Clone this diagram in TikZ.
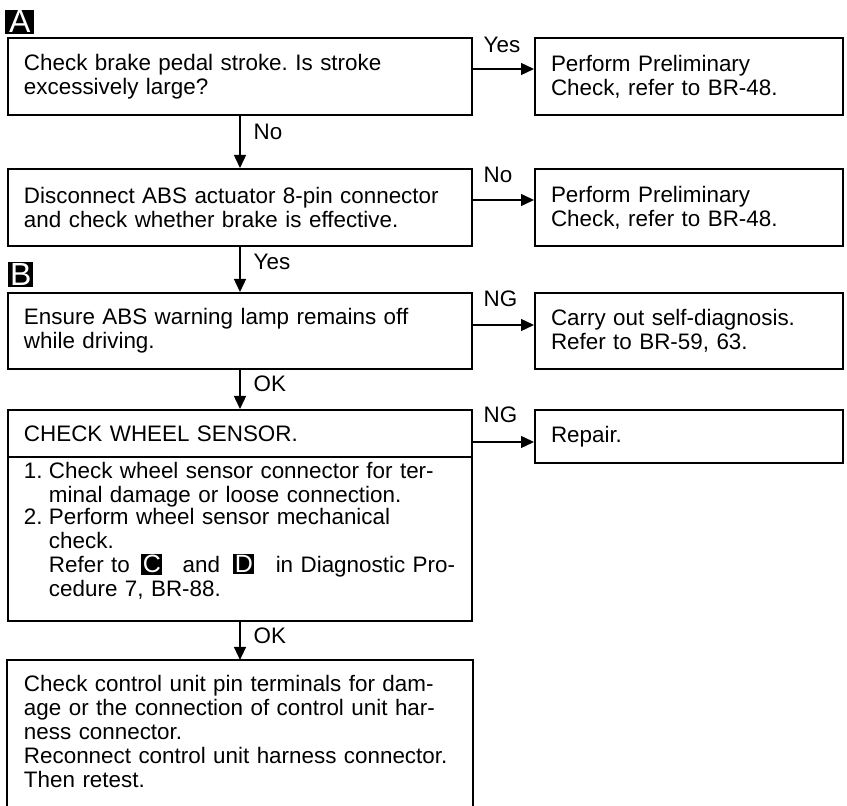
\documentclass[tikz,border=0pt]{standalone}
\usepackage{fontspec}
\setmainfont{Liberation Sans}
\usetikzlibrary{arrows.meta, positioning}

% white letter on a black square, used inside the text
\newcommand{\keytag}[1]{{\setlength{\fboxsep}{0.7pt}\colorbox{black}{\makebox[9pt]{\textcolor{white}{\fontsize{12.5}{12.5}\selectfont #1}}}}}
\newcommand{\numitem}[2]{\makebox[12.5pt][l]{#1}\parbox[t]{203.5pt}{#2}}

\begin{document}
\begin{tikzpicture}[
    x=0.5pt, y=-0.5pt,
    font=\fontsize{11.2}{12}\selectfont\frenchspacing,
    box/.style={rectangle, draw, line width=1pt, text width=216pt, inner xsep=8pt, align=left, minimum height=38.5pt},
    sidebox/.style={box, text width=138pt},
    keylbl/.style={fill=black, text=white, inner sep=0pt, minimum width=14.5pt, minimum height=12pt, font=\fontsize{16}{16}\selectfont},
    arrow/.style={-{Triangle[length=6.5pt, width=6pt]}, line width=0.7pt},
    lbl/.style={inner sep=0pt}
]
    \useasboundingbox (0,0) rectangle (847,806);

    % Pedal stroke
    \node[box, anchor=north west] (stroke) at (7,37) {Check brake pedal stroke. Is stroke\\excessively large?};
    \node[sidebox, right=30.5pt of stroke] (prelimA) {Perform Preliminary\\Check, refer to BR-48.};
    \node[keylbl, above right=1.5pt and -1pt of stroke.north west] (keyA) {A};

    % Actuator connector
    \node[box, below=26pt of stroke] (actuator) {Disconnect ABS actuator 8-pin connector\\and check whether brake is effective.};
    \node[sidebox, right=30.5pt of actuator] (prelimB) {Perform Preliminary\\Check, refer to BR-48.};

    % Warning lamp
    \node[box, below=22.5pt of actuator, minimum height=38pt] (lamp) {Ensure ABS warning lamp remains off\\while driving.};
    \node[sidebox, right=30.5pt of lamp, minimum height=38pt] (selfdiag) {Carry out self-diagnosis.\\Refer to BR-59, 63.};
    \node[keylbl, above right=2.5pt and 0.5pt of lamp.north west, minimum width=12.5pt, minimum height=12.5pt] (keyB) {B};

    % Wheel sensor
    \node[box, below=19.5pt of lamp, minimum height=23.5pt] (sensor) {CHECK WHEEL SENSOR.};
    \node[box, below=-1pt of sensor, minimum height=0pt, inner ysep=2.4pt] (sensorsteps) {%
        \numitem{1.}{Check wheel sensor connector for ter-\\minal damage or loose connection.}\\
        \numitem{2.}{Perform wheel sensor mechanical\\check.\\Refer to \hspace{2pt}\keytag{C}\hspace{6.5pt} and \hspace{3pt}\keytag{D}\hspace{7pt} in Diagnostic Pro-\\cedure 7, BR-88.\rule[-9.6pt]{0pt}{9.6pt}}};
    \node[sidebox, minimum height=26.5pt, anchor=north west] (repair) at ([xshift=30.5pt]sensor.north east) {Repair.};

    % Control unit
    \node[box, draw=none, below=19pt of sensorsteps, minimum height=0pt, inner ysep=7.4pt] (retest) {Check control unit pin terminals for dam-\\age or the connection of control unit har-\\ness connector.\\Reconnect control unit harness connector.\\Then retest.\rule[-24pt]{0pt}{24pt}};
    \draw[line width=1pt] (retest.south west) -- (retest.north west) -- (retest.north east) -- (retest.south east);

    % Arrows
    \draw[arrow] ([yshift=3.75pt]stroke.east) -- node[lbl, pos=0, anchor=base west, xshift=5pt, yshift=8pt] {Yes} ([yshift=3.75pt]prelimA.west);
    \draw[arrow] (stroke) -- node[lbl, pos=0, anchor=base west, xshift=6.5pt, yshift=-12pt] {No} (actuator);
    \draw[arrow] ([yshift=3.75pt]actuator.east) -- node[lbl, pos=0, anchor=base west, xshift=5pt, yshift=8.5pt] {No} ([yshift=3.75pt]prelimB.west);
    \draw[arrow] (actuator) -- node[lbl, pos=0, anchor=base west, xshift=6.5pt, yshift=-11.5pt] {Yes} (lamp);
    \draw[arrow] ([yshift=3pt]lamp.east) -- node[lbl, pos=0, anchor=base west, xshift=5pt, yshift=9pt] {NG} ([yshift=3pt]selfdiag.west);
    \draw[arrow] (lamp) -- node[lbl, pos=0, anchor=base west, xshift=6.5pt, yshift=-11pt] {OK} (sensor);
    \draw[arrow] ([yshift=-4.25pt]sensor.east) -- node[lbl, pos=0, anchor=base west, xshift=5pt, yshift=9.5pt] {NG} ([yshift=-4.25pt]sensor.east -| repair.west);
    \draw[arrow] (sensorsteps) -- node[lbl, pos=0, anchor=base west, xshift=6.5pt, yshift=-11pt] {OK} (retest);
\end{tikzpicture}
\end{document}
